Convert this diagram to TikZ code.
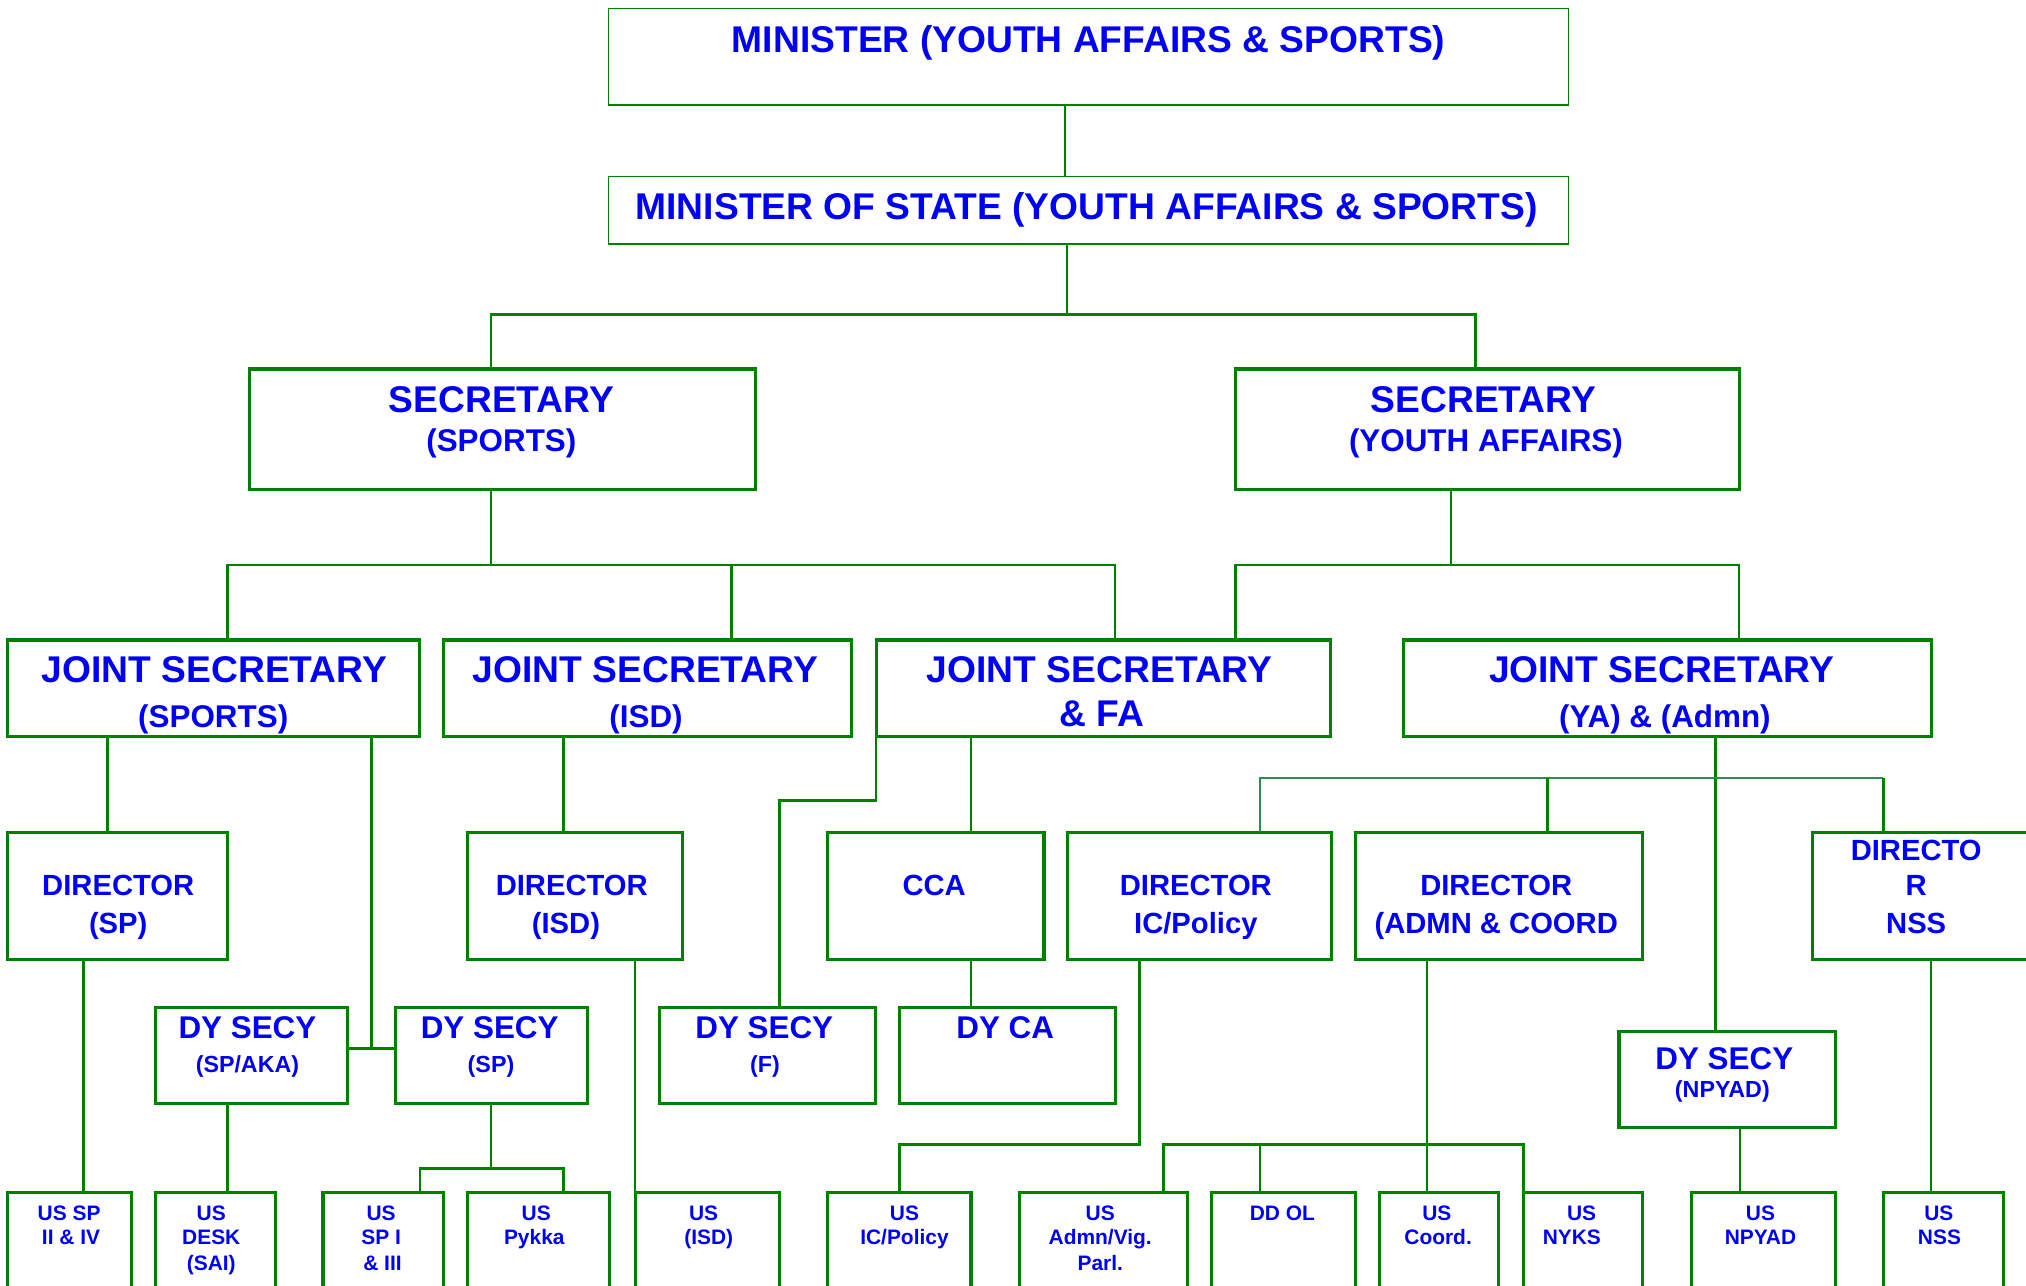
\documentclass[tikz,border=0pt]{standalone}
\usepackage{fontspec}
\setmainfont{Liberation Sans}
\definecolor{lg}{RGB}{0,128,0}
\definecolor{tl}{RGB}{46,139,87}
\definecolor{tb}{RGB}{0,0,245}
\newcommand\orgbox[6][box]{\node[#1, minimum width={(#5-#3)*1pt}, minimum height={(#6-#4)*1pt}] (#2) at (#3,#4) {};}
\newcommand\lbl[5]{\node[#2] (#1) at (#3,#4) {#5};}
\begin{document}
\begin{tikzpicture}[x=1pt,y=-1pt,
  box/.style={draw=lg, line width=2.4pt, inner sep=0pt, outer sep=0pt, anchor=north west},
  thinbox/.style={box, line width=1.3pt},
  conn/.style={draw=lg, line width=2pt},
  thinconn/.style={draw=lg, line width=1.3pt},
  tconn/.style={draw=tl, line width=2pt},
  txt/.style={text=tb, anchor=base, inner sep=0pt},
  tA/.style={txt, font=\bfseries\fontsize{28.8}{30}\selectfont},
  tB/.style={txt, font=\bfseries\fontsize{24.3}{26}\selectfont},
  tC/.style={txt, font=\bfseries\fontsize{22.6}{24}\selectfont},
  tD/.style={txt, font=\bfseries\fontsize{18}{20}\selectfont},
  tE/.style={txt, font=\bfseries\fontsize{16.2}{18}\selectfont}
]
\useasboundingbox (0,0) rectangle (1568,995);
\clip (0,0) rectangle (1568,995);
\fill[white] (0,0) rectangle (1568,995);

% ---------- boxes ----------
\orgbox[thinbox]{min}{471}{6.7}{1214}{81.4}
\orgbox[thinbox]{mos}{471}{136.7}{1214}{188.8}
\orgbox{secS}{193}{285.6}{585}{379}
\orgbox{secY}{956}{285.6}{1346}{379}
\orgbox{jsS}{6}{495.3}{325}{570}
\orgbox{jsI}{343}{495.3}{659}{570}
\orgbox{jsF}{678}{495.3}{1030}{570}
\orgbox{jsY}{1086}{495.3}{1495}{570}
\orgbox{dirSP}{6}{644.2}{176}{742.5}
\orgbox{dirI}{361.5}{644.2}{528.5}{742.5}
\orgbox{cca}{640.5}{644.2}{808}{742.5}
\orgbox{dirIC}{826}{644.2}{1030.5}{742.5}
\orgbox{dirA}{1049}{644.2}{1271.5}{742.5}
\orgbox{dirN}{1402.5}{644.2}{1575}{742.5}
\orgbox{dySA}{120}{779.7}{269}{854}
\orgbox{dySP}{306}{779.7}{455}{854}
\orgbox{dyF}{510.5}{779.7}{677.5}{854}
\orgbox{dyCA}{696}{779.7}{863}{854}
\orgbox{dyN}{1253}{798}{1420.5}{872.5}
\orgbox{usA}{6}{922.9}{102}{1005}
\orgbox{usB}{120}{922.9}{213.5}{1005}
\orgbox{usC}{250}{922.9}{343}{1005}
\orgbox{usD}{361.5}{922.9}{471.5}{1005}
\orgbox{usE}{491.5}{922.9}{603.5}{1005}
\orgbox{usF}{640.5}{922.9}{751.5}{1005}
\orgbox{usG}{789}{922.9}{919}{1005}
\orgbox{usH}{937.5}{922.9}{1049}{1005}
\orgbox{usI}{1067.5}{922.9}{1160}{1005}
\orgbox{usJ}{1179}{922.9}{1271.5}{1005}
\orgbox{usK}{1309}{922.9}{1420.5}{1005}
\orgbox{usL}{1457.5}{922.9}{1550.5}{1005}

% ---------- connectors ----------
\draw[thinconn] ([xshift=-18.5pt]min.south) coordinate (c1) -- (c1 |- mos.north);
\coordinate (b1) at (826,243.3);
\draw[thinconn] ([xshift=-16.5pt]mos.south) -- (b1);
\draw[conn] ([xshift=-9pt]secS.north) |- (b1) -| ([xshift=-9pt]secY.north);

\coordinate (b2) at (380,437.3);
\draw[conn] ([xshift=-9pt]secS.south) -- (b2);
\draw[conn] ([xshift=10.5pt]jsS.north) |- (b2) -| ([xshift=9pt]jsF.north);
\draw[conn] ([xshift=65pt]jsI.north) coordinate (c2) -- (c2 |- b2);

\coordinate (b3) at (1123,437.3);
\draw[conn] ([xshift=-28pt]secY.south) -- (b3);
\draw[conn] ([xshift=102pt]jsF.north) |- (b3) -| ([xshift=55.5pt]jsY.north);

\draw[conn] ([xshift=-82.5pt]jsS.south) coordinate (c3) -- (c3 |- dirSP.north);
\coordinate (j1) at (287.5,811.4);
\draw[conn] ([xshift=122pt]jsS.south) -- (j1);
\draw[conn] (dySA.east |- j1) -- (dySP.west |- j1);
\draw[conn] ([xshift=-65pt]jsI.south) coordinate (c4) -- (c4 |- dirI.north);
\draw[conn] (jsF.south west) -- ++(0,49.5) -| ([xshift=9.5pt]dyF.north);
\draw[conn] ([xshift=-102.5pt]jsF.south) coordinate (c5) -- (c5 |- cca.north);

\coordinate (b4) at (1327.5,602);
\draw[conn] ([xshift=37pt]jsY.south) coordinate (c6) -- (c6 |- dyN.north);
\path ([xshift=-31.25pt]dirN.north) coordinate (c7);
\draw[tconn] ([xshift=47pt]dirIC.north) |- (b4) -- (c7 |- b4);
\draw[conn] (c7 |- b4) -- (c7);
\draw[conn] ([xshift=37.25pt]dirA.north) coordinate (c8) -- (c8 |- b4);

\draw[conn] ([xshift=27.25pt]cca.south) coordinate (c9) -- (c9 |- dyCA.north);
\draw[conn] ([xshift=-26.5pt]dirSP.south) coordinate (c10) -- (c10 |- usA.north);
\draw[conn] ([xshift=-18.5pt]dySA.south) coordinate (c11) -- (c11 |- usB.north);
\coordinate (b5) at (380,904.3);
\draw[conn] (dySP.south -| b5) -- (b5);
\draw[conn] ([xshift=28.5pt]usC.north) |- (b5) -| ([xshift=19.5pt]usD.north);
\draw[conn] ([xshift=46.5pt]dirI.south) coordinate (c12) -- (c12 |- usE.north);
\draw[conn] ([xshift=-46.25pt]dirIC.south) -- ++(0,143.2) -| (usF.north);
\coordinate (b6) at (1104.5,885.7);
\draw[conn] ([xshift=-55.75pt]dirA.south) -- (b6);
\draw[conn] ([xshift=46.5pt]usG.north) |- (b6) -| (usJ.north west);
\draw[conn] ([xshift=-18.25pt]usH.north) coordinate (c13) -- (c13 |- b6);
\draw[conn] ([xshift=-9.25pt]usI.north) coordinate (c14) -- (c14 |- b6);
\draw[conn] ([xshift=9.75pt]dyN.south) coordinate (c15) -- (c15 |- usK.north);
\draw[conn] ([xshift=5.75pt]dirN.south) coordinate (c16) -- (c16 |- usL.north);

% ---------- texts ----------
\lbl{t-min}{tA}{842.5}{40.7}{MINISTER (YOUTH AFFAIRS \& SPORTS)}
\lbl{t-mos}{tA}{841}{170}{MINISTER OF STATE (YOUTH AFFAIRS \& SPORTS)}
\lbl{t-secS1}{tA}{388}{319}{SECRETARY}
\lbl{t-secS2}{tB}{388}{349.5}{(SPORTS)}
\lbl{t-secY1}{tA}{1148}{319}{SECRETARY}
\lbl{t-secY2}{tB}{1150}{349.5}{(YOUTH AFFAIRS)}
\lbl{t-jsS1}{tA}{166}{528}{JOINT SECRETARY}
\lbl{t-jsS2}{tB}{165}{563}{(SPORTS)}
\lbl{t-jsI1}{tA}{499.5}{528}{JOINT SECRETARY}
\lbl{t-jsI2}{tB}{500}{563}{(ISD)}
\lbl{t-jsF1}{tA}{851}{528}{JOINT SECRETARY}
\lbl{t-jsF2}{tA}{853}{562.5}{\& FA}
\lbl{t-jsY1}{tA}{1286}{528}{JOINT SECRETARY}
\lbl{t-jsY2}{tB}{1288.5}{563}{(YA) \& (Admn)}
\lbl{t-dirSP1}{tC}{91.5}{693}{DIRECTOR}
\lbl{t-dirSP2}{tC}{91.5}{722.5}{(SP)}
\lbl{t-dirI1}{tC}{442.5}{693}{DIRECTOR}
\lbl{t-dirI2}{tC}{438}{722.5}{(ISD)}
\lbl{t-cca}{tC}{723}{693}{CCA}
\lbl{t-dirIC1}{tC}{925.5}{693}{DIRECTOR}
\lbl{t-dirIC2}{tC}{925.5}{722.5}{IC/Policy}
\lbl{t-dirA1}{tC}{1158}{693}{DIRECTOR}
\lbl{t-dirA2}{tC}{1158}{722.5}{(ADMN \& COORD}
\lbl{t-dirN1}{tC}{1483}{666}{DIRECTO}
\lbl{t-dirN2}{tC}{1483}{693}{R}
\lbl{t-dirN3}{tC}{1483}{722.5}{NSS}
\lbl{t-dySA1}{tB}{191.5}{804}{DY SECY}
\lbl{t-dySA2}{tD}{191.5}{830}{(SP/AKA)}
\lbl{t-dySP1}{tB}{379}{804}{DY SECY}
\lbl{t-dySP2}{tD}{380}{830}{(SP)}
\lbl{t-dyF1}{tB}{591.5}{804}{DY SECY}
\lbl{t-dyF2}{tD}{592}{830}{(F)}
\lbl{t-dyCA}{tB}{778}{804}{DY CA}
\lbl{t-dyN1}{tB}{1334.5}{828}{DY SECY}
\lbl{t-dyN2}{tD}{1333}{849.2}{(NPYAD)}
\lbl{t-usA1}{tE}{53.5}{944.5}{US SP}
\lbl{t-usA2}{tE}{55}{963.5}{II \& IV}
\lbl{t-usB1}{tE}{163.5}{944.5}{US}
\lbl{t-usB2}{tE}{163.5}{963.5}{DESK}
\lbl{t-usB3}{tE}{163.5}{983.5}{(SAI)}
\lbl{t-usC1}{tE}{295}{944.5}{US}
\lbl{t-usC2}{tE}{295}{963.5}{SP I}
\lbl{t-usC3}{tE}{296}{983.5}{\& III}
\lbl{t-usD1}{tE}{415}{944.5}{US}
\lbl{t-usD2}{tE}{413.5}{963.5}{Pykka}
\lbl{t-usE1}{tE}{544.5}{944.5}{US}
\lbl{t-usE2}{tE}{548.5}{963.5}{(ISD)}
\lbl{t-usF1}{tE}{700}{944.5}{US}
\lbl{t-usF2}{tE}{700}{963.5}{IC/Policy}
\lbl{t-usG1}{tE}{851.5}{944.5}{US}
\lbl{t-usG2}{tE}{851.5}{963.5}{Admn/Vig.}
\lbl{t-usG3}{tE}{851.5}{983.5}{Parl.}
\lbl{t-usH}{tE}{992.5}{944.5}{DD OL}
\lbl{t-usI1}{tE}{1112}{944.5}{US}
\lbl{t-usI2}{tE}{1113}{963.5}{Coord.}
\lbl{t-usJ1}{tE}{1224}{944.5}{US}
\lbl{t-usJ2}{tE}{1216.5}{963.5}{NYKS}
\lbl{t-usK1}{tE}{1362.5}{944.5}{US}
\lbl{t-usK2}{tE}{1362.5}{963.5}{NPYAD}
\lbl{t-usL1}{tE}{1500.5}{944.5}{US}
\lbl{t-usL2}{tE}{1501}{963.5}{NSS}
\end{tikzpicture}
\end{document}
